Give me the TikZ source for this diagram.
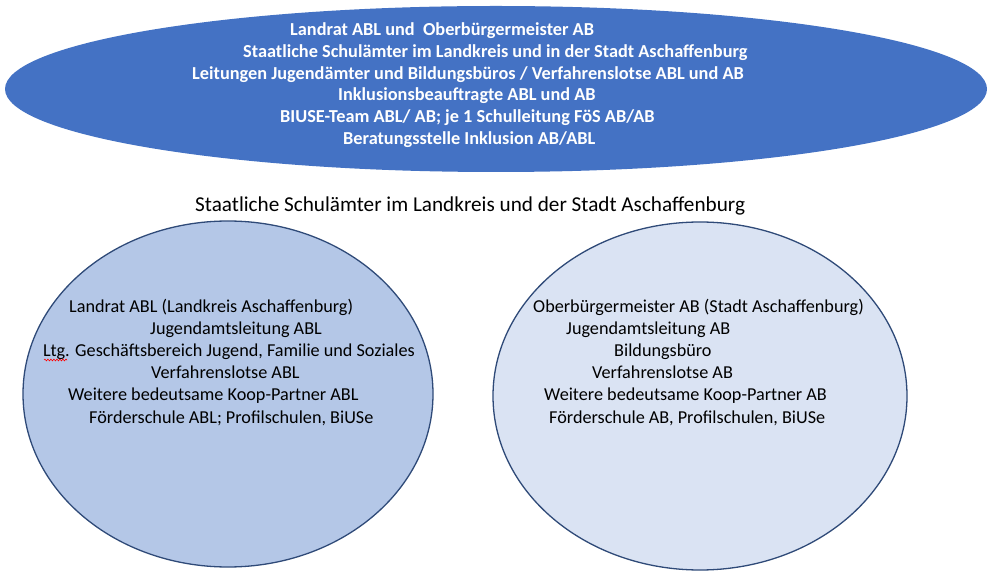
\documentclass[tikz,border=0pt]{standalone}
\usepackage{fontspec}
\setmainfont{Carlito}
\usetikzlibrary{decorations.pathmorphing}
\definecolor{topblue}{HTML}{4472C4}
\definecolor{leftblue}{HTML}{B4C7E7}
\definecolor{rightblue}{HTML}{DAE3F3}
\definecolor{edgeblue}{HTML}{2F4A78}
\tikzset{
  x=1pt, y=1pt,
  topline/.style={text=white, font=\bfseries\fontsize{18.3}{20}\selectfont, inner sep=0pt, anchor=base west},
  bodyline/.style={text=black, font=\fontsize{18.2}{20}\selectfont, inner sep=0pt, anchor=base west},
  headline/.style={text=black, font=\fontsize{21.2}{24}\selectfont, inner sep=0pt, anchor=base west},
  circ/.style={draw=edgeblue, line width=1.3pt}
}
\begin{document}
\begin{tikzpicture}
\useasboundingbox (0,0) rectangle (1000,573);
\fill[white] (0,0) rectangle (1000,573);
% top ellipse
\fill[topblue] (496,484) ellipse [x radius=491, y radius=83];
\node[topline] (t1) at (290,537) {Landrat ABL und\ \ Oberbürgermeister AB};
\node[topline] (t2) at (243,515) {Staatliche Schulämter im Landkreis und in der Stadt Aschaffenburg};
\node[topline] (t3) at (192,493) {Leitungen Jugendämter und Bildungsbüros / Verfahrenslotse ABL und AB};
\node[topline] (t4) at (338,472) {Inklusionsbeauftragte ABL und AB};
\node[topline] (t5) at (280,450) {BIUSE-Team ABL/ AB; je 1 Schulleitung FöS AB/AB};
\node[topline] (t6) at (343,428) {Beratungsstelle Inklusion AB/ABL};
% heading
\node[headline] (head) at (195,361) {Staatliche Schulämter im Landkreis und der Stadt Aschaffenburg};
% left ellipse
\draw[circ, fill=leftblue] (228,179) ellipse [x radius=205, y radius=173];
\node[bodyline] (l1) at (69,260) {Landrat ABL (Landkreis Aschaffenburg)};
\node[bodyline] (l2) at (150,238) {Jugendamtsleitung ABL};
\node[bodyline] (l3) at (43,216) {Ltg. Geschäftsbereich Jugend, Familie und Soziales};
\node[bodyline] (l4) at (151,194) {Verfahrenslotse ABL};
\node[bodyline] (l5) at (68,172) {Weitere bedeutsame Koop-Partner ABL};
\node[bodyline] (l6) at (89,150) {Förderschule ABL; Profilschulen, BiUSe};
\coordinate (ws) at ([xshift=1pt, yshift=-3pt]l3.base west);
\coordinate (we) at ([xshift=24pt, yshift=-3pt]l3.base west);
\draw[red, line width=0.6pt, decorate, decoration={snake, amplitude=0.9pt, segment length=3pt}] (ws) -- (we);
% right ellipse
\draw[circ, fill=rightblue] (700,177) ellipse [x radius=207, y radius=174];
\node[bodyline] (r1) at (533,260) {Oberbürgermeister AB (Stadt Aschaffenburg)};
\node[bodyline] (r2) at (566,238) {Jugendamtsleitung AB};
\node[bodyline] (r3) at (614,216) {Bildungsbüro};
\node[bodyline] (r4) at (592,194) {Verfahrenslotse AB};
\node[bodyline] (r5) at (544,172) {Weitere bedeutsame Koop-Partner AB};
\node[bodyline] (r6) at (549,150) {Förderschule AB, Profilschulen, BiUSe};
\end{tikzpicture}
\end{document}
